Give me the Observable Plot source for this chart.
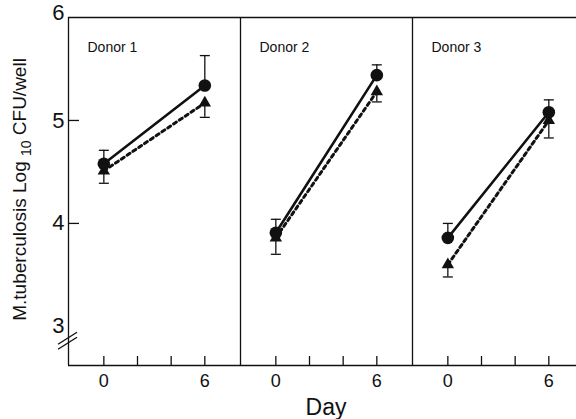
<!DOCTYPE html>
<html>
<head>
<meta charset="utf-8">
<script src="https://cdn.jsdelivr.net/npm/d3@7"></script>
<script src="https://cdn.jsdelivr.net/npm/@observablehq/plot@0.6"></script>
<style>
  html, body { margin: 0; padding: 0; background: white; overflow: hidden; }
  #chart { width: 576px; height: 419px; overflow: hidden; }
</style>
</head>
<body>
<div id="chart"></div>
<script>
// ---- data ----
const donors = ["Donor 1", "Donor 2", "Donor 3"];
const days = [0, 6];
const circleMean = [[4.58, 5.34], [3.91, 5.44], [3.86, 5.08]];
const circleErr  = [[0.13, 0.29], [0.13, 0.10], [0.14, 0.12]]; // upper bars
const triMean    = [[4.51, 5.17], [3.86, 5.28], [3.60, 5.00]];
const triErr     = [[0.12, 0.14], [0.16, 0.10], [0.12, 0.17]]; // lower bars
const xTicks = [0, 2, 4, 6];
const xTickLabels = [0, 6];
const yTickLabels = [3, 4, 5];
const yTopLabel = [6];
const yInnerTicks = [4, 5];
const yBreakAt = 2.88;

// ---- build rows ----
const rows = [];
donors.forEach((donor, i) => {
  days.forEach((day, j) => {
    rows.push({donor, day, series: "circle", value: circleMean[i][j],
               lo: circleMean[i][j], hi: circleMean[i][j] + circleErr[i][j], cap: circleMean[i][j] + circleErr[i][j]});
    rows.push({donor, day, series: "triangle", value: triMean[i][j],
               lo: triMean[i][j] - triErr[i][j], hi: triMean[i][j], cap: triMean[i][j] - triErr[i][j]});
  });
});
const circles = rows.filter(d => d.series === "circle");
const triangles = rows.filter(d => d.series === "triangle");

const xDomain = [-2.1, 8.12];
const yDomain = [2.62, 6];
const capSymbol = { draw(ctx) { ctx.moveTo(-5, 0); ctx.lineTo(5, 0); } };
const font = "'Liberation Sans', Arial, Helvetica, sans-serif";
const ink = "#111";

const svg = Plot.plot({
  width: 584,
  height: 419,
  marginLeft: 68,
  marginRight: 0,
  marginTop: 17,
  marginBottom: 54,
  style: { fontFamily: font, background: "white", color: ink, maxWidth: "none" },
  fx: { domain: donors, padding: 0, axis: null, label: null },
  x: { domain: xDomain, axis: null, label: null },
  y: { domain: yDomain, axis: null, label: null },
  marks: [
    // frame pieces
    Plot.ruleY([yDomain[1]], { stroke: ink, strokeWidth: 1.3 }),
    Plot.ruleY([yDomain[0]], { stroke: ink, strokeWidth: 1.5 }),
    Plot.ruleX([xDomain[0]], { stroke: ink, strokeWidth: 1.3 }),
    // x axis: inward ticks + labels
    Plot.axisX({ ticks: xTicks, tickSize: -9, tickFormat: () => "", label: null, stroke: ink, strokeWidth: 1.3 }),
    Plot.axisX({ ticks: xTickLabels, tickSize: 0, tickPadding: 9, tickFormat: d => String(d), label: null, fontSize: 18, fill: ink }),
    // y axis: inward ticks + labels
    Plot.axisY({ ticks: yInnerTicks, tickSize: -11, tickFormat: () => "", label: null, stroke: ink, strokeWidth: 1.3 }),
    Plot.axisY({ ticks: yTickLabels, tickSize: 0, tickPadding: 4, tickFormat: d => String(d), label: null, fontSize: 22, fill: ink }),
    Plot.axisY({ ticks: yTopLabel, tickSize: 0, tickPadding: 4, dy: -5, tickFormat: d => String(d), label: null, fontSize: 22, fill: ink }),
    // donor labels
    Plot.text(donors, { fx: d => d, text: d => d, frameAnchor: "top-left", textAnchor: "start", lineAnchor: "top", dx: 19, dy: 25, fontSize: 14, fill: ink }),
    // error bars
    Plot.ruleX(rows, { fx: "donor", x: "day", y1: "lo", y2: "hi", stroke: ink, strokeWidth: 1.3 }),
    Plot.dot(rows, { fx: "donor", x: "day", y: "cap", symbol: capSymbol, stroke: ink, fill: "none", strokeWidth: 1.3, r: 5 }),
    // lines
    Plot.line(triangles, { fx: "donor", x: "day", y: "value", z: "donor", stroke: ink, strokeWidth: 3, strokeDasharray: "3.5,3.5" }),
    Plot.line(circles, { fx: "donor", x: "day", y: "value", z: "donor", stroke: ink, strokeWidth: 2.6 }),
    // markers
    Plot.dot(triangles, { fx: "donor", x: "day", y: "value", symbol: "triangle", fill: ink, r: 4.6 }),
    Plot.dot(circles, { fx: "donor", x: "day", y: "value", symbol: "circle", fill: ink, r: 6.3 })
  ]
});

// ---- annotations: axis titles and break mark ----
const y = svg.scale("y");
const s = d3.select(svg);
const yMid = (y.apply(yDomain[1]) + y.apply(3)) / 2 + 18;
const yl = s.append("text")
  .attr("transform", `translate(26,${yMid}) rotate(-90)`)
  .attr("text-anchor", "middle")
  .attr("font-family", font)
  .attr("font-size", 19)
  .attr("fill", ink);
yl.append("tspan").text("M.tuberculosis Log ");
yl.append("tspan").attr("font-size", 14).attr("dy", 5).text("10");
yl.append("tspan").attr("dy", -5).text(" CFU/well");

s.append("text")
  .attr("x", 68 + 172 * 1.5)
  .attr("y", 415)
  .attr("text-anchor", "middle")
  .attr("font-family", font)
  .attr("font-size", 23)
  .attr("fill", ink)
  .text("Day");

const by = y.apply(yBreakAt);
[0, 5].forEach(off => {
  s.append("line")
    .attr("x1", 68 - 10).attr("y1", by + off + 6)
    .attr("x2", 68 + 9).attr("y2", by + off - 6)
    .attr("stroke", ink).attr("stroke-width", 1.4);
});

document.getElementById("chart").appendChild(svg);
</script>
</body>
</html>
